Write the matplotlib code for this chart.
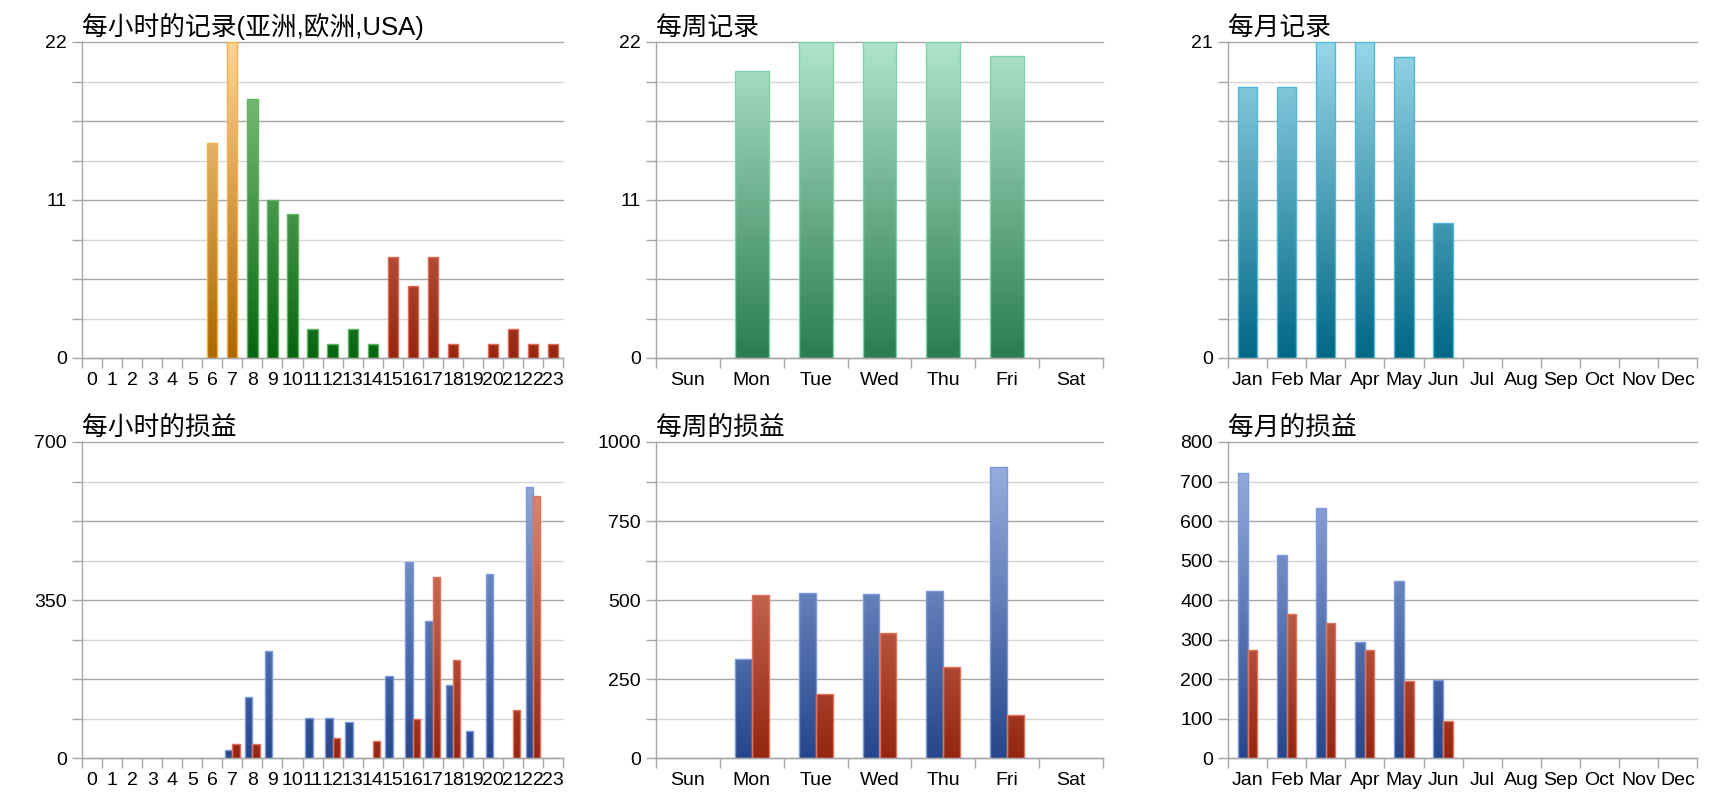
import numpy as np
import matplotlib
matplotlib.use("Agg")
import matplotlib.pyplot as plt
from matplotlib.colors import LinearSegmentedColormap

plt.rcParams['font.family'] = ['Liberation Sans', 'Noto Sans CJK SC', 'DejaVu Sans']

# 数据
hours = [str(h) for h in range(24)]
weekdays = ['Sun', 'Mon', 'Tue', 'Wed', 'Thu', 'Fri', 'Sat']
months = ['Jan', 'Feb', 'Mar', 'Apr', 'May', 'Jun', 'Jul', 'Aug', 'Sep', 'Oct', 'Nov', 'Dec']

hour_records = [0, 0, 0, 0, 0, 0, 15, 22, 18, 11, 10, 2, 1, 2, 1, 7, 5, 7, 1, 0, 1, 2, 1, 1]
hour_region = ['asia'] * 8 + ['europe'] * 7 + ['usa'] * 9
week_records = [0, 20, 22, 22, 22, 21, 0]
month_records = [18, 18, 21, 21, 20, 9, 0, 0, 0, 0, 0, 0]

hour_profit_blue = [0, 0, 0, 0, 0, 0, 0, 18, 136, 238, 0, 89, 90, 80, 0, 182, 435, 304, 162, 61, 407, 0, 601, 0]
hour_profit_red = [0, 0, 0, 0, 0, 0, 0, 31, 31, 0, 0, 0, 45, 0, 39, 0, 87, 402, 217, 0, 0, 108, 581, 1]
week_profit_blue = [0, 315, 522, 520, 528, 920, 0]
week_profit_red = [0, 517, 205, 398, 288, 136, 0]
month_profit_blue = [721, 514, 633, 294, 448, 199, 0, 0, 0, 0, 0, 0]
month_profit_red = [275, 366, 342, 274, 195, 94, 0, 0, 0, 0, 0, 0]

# 渐变色
cm_orange = LinearSegmentedColormap.from_list('o', ['#ad6600', '#fed595'])
cm_green = LinearSegmentedColormap.from_list('g', ['#086410', '#8ccc8c'])
cm_red = LinearSegmentedColormap.from_list('r', ['#942610', '#eb9a86'])
cm_blue = LinearSegmentedColormap.from_list('b', ['#26468c', '#a0b6e4'])
cm_mint = LinearSegmentedColormap.from_list('m', ['#2a7d50', '#b0e4ca'])
cm_teal = LinearSegmentedColormap.from_list('t', ['#006886', '#98d6e8'])

region_style = {'asia': (cm_orange, '#f7b04a'),
                'europe': (cm_green, '#5fb65f'),
                'usa': (cm_red, '#e26a52')}

DARK = '#a6a6a6'
LIGHT = '#d6d6d6'
grad = np.linspace(0, 1, 256).reshape(-1, 1)


def grad_bars(ax, x, h, width, cmap, edge, ymax):
    bars = ax.bar(x, h, width, facecolor='none', edgecolor=edge, linewidth=1.0, zorder=3)
    for b, v in zip(bars, h):
        if v <= 0:
            b.set_visible(False)
            continue
        x0 = b.get_x()
        im = ax.imshow(grad, extent=[x0, x0 + b.get_width(), 0, ymax], origin='lower',
                       cmap=cmap, aspect='auto', zorder=2, interpolation='bilinear')
        im.set_clip_path(b)
    return bars


def setup(ax, labels, ymax, ylabels, title):
    n = len(labels)
    lines = [ymax * k / 8 for k in range(9)]
    for k, y in enumerate(lines):
        ax.axhline(y, color=DARK if k % 2 == 0 else LIGHT, lw=1.0, zorder=1, clip_on=False)
    ax.set_xlim(0, n)
    ax.set_ylim(0, ymax)
    ax.set_yticks(lines)
    ax.set_yticklabels([str(int(y)) if y in ylabels else '' for y in lines])
    ax.set_xticks(range(n + 1))
    ax.set_xticklabels([])
    ax.set_xticks(np.arange(n) + 0.5, minor=True)
    ax.set_xticklabels(labels, minor=True)
    ax.tick_params(axis='y', length=7, width=1, color=DARK, pad=4, labelsize=14)
    ax.tick_params(axis='x', which='major', length=7, width=1, color=DARK)
    ax.tick_params(axis='x', which='minor', length=0, pad=10, labelsize=14)
    for s in ['top', 'right']:
        ax.spines[s].set_visible(False)
    for s in ['left', 'bottom']:
        ax.spines[s].set_color(DARK)
        ax.spines[s].set_linewidth(1.0)
        ax.spines[s].set_zorder(4)
    ax.set_title(title, loc='left', fontsize=18.5, pad=5)


fig = plt.figure(figsize=(17.2, 8), dpi=100)
ax1 = fig.add_axes([0.0477, 0.5525, 0.2797, 0.395])
ax2 = fig.add_axes([0.3814, 0.5525, 0.2599, 0.395])
ax3 = fig.add_axes([0.7140, 0.5525, 0.2727, 0.395])
ax4 = fig.add_axes([0.0477, 0.0519, 0.2797, 0.3956])
ax5 = fig.add_axes([0.3814, 0.0519, 0.2599, 0.3956])
ax6 = fig.add_axes([0.7140, 0.0519, 0.2727, 0.3956])

# 每小时的记录
xh = np.arange(24) + 0.5
for reg in ['asia', 'europe', 'usa']:
    idx = [i for i in range(24) if hour_region[i] == reg]
    cmap, edge = region_style[reg]
    grad_bars(ax1, xh[idx], [hour_records[i] for i in idx], 0.51, cmap, edge, 22)
setup(ax1, hours, 22, [0, 11, 22], '每小时的记录(亚洲,欧洲,USA)')

# 每周记录
xw = np.arange(7) + 0.5
grad_bars(ax2, xw, week_records, 0.53, cm_mint, '#7fd3aa', 22)
setup(ax2, weekdays, 22, [0, 11, 22], '每周记录')

# 每月记录
xm = np.arange(12) + 0.5
grad_bars(ax3, xm, month_records, 0.49, cm_teal, '#4cb9da', 21)
setup(ax3, months, 21, [0, 21], '每月记录')

# 每小时的损益
grad_bars(ax4, xh - 0.185, hour_profit_blue, 0.366, cm_blue, '#7a9ae0', 700)
grad_bars(ax4, xh + 0.185, hour_profit_red, 0.366, cm_red, '#e2705a', 700)
setup(ax4, hours, 700, [0, 350, 700], '每小时的损益')

# 每周的损益
grad_bars(ax5, xw - 0.133, week_profit_blue, 0.265, cm_blue, '#7a9ae0', 1000)
grad_bars(ax5, xw + 0.133, week_profit_red, 0.265, cm_red, '#e2705a', 1000)
setup(ax5, weekdays, 1000, [0, 250, 500, 750, 1000], '每周的损益')

# 每月的损益
grad_bars(ax6, xm - 0.123, month_profit_blue, 0.245, cm_blue, '#7a9ae0', 800)
grad_bars(ax6, xm + 0.123, month_profit_red, 0.245, cm_red, '#e2705a', 800)
setup(ax6, months, 800, [0, 100, 200, 300, 400, 500, 600, 700, 800], '每月的损益')

fig.savefig('out.png', dpi=100)
